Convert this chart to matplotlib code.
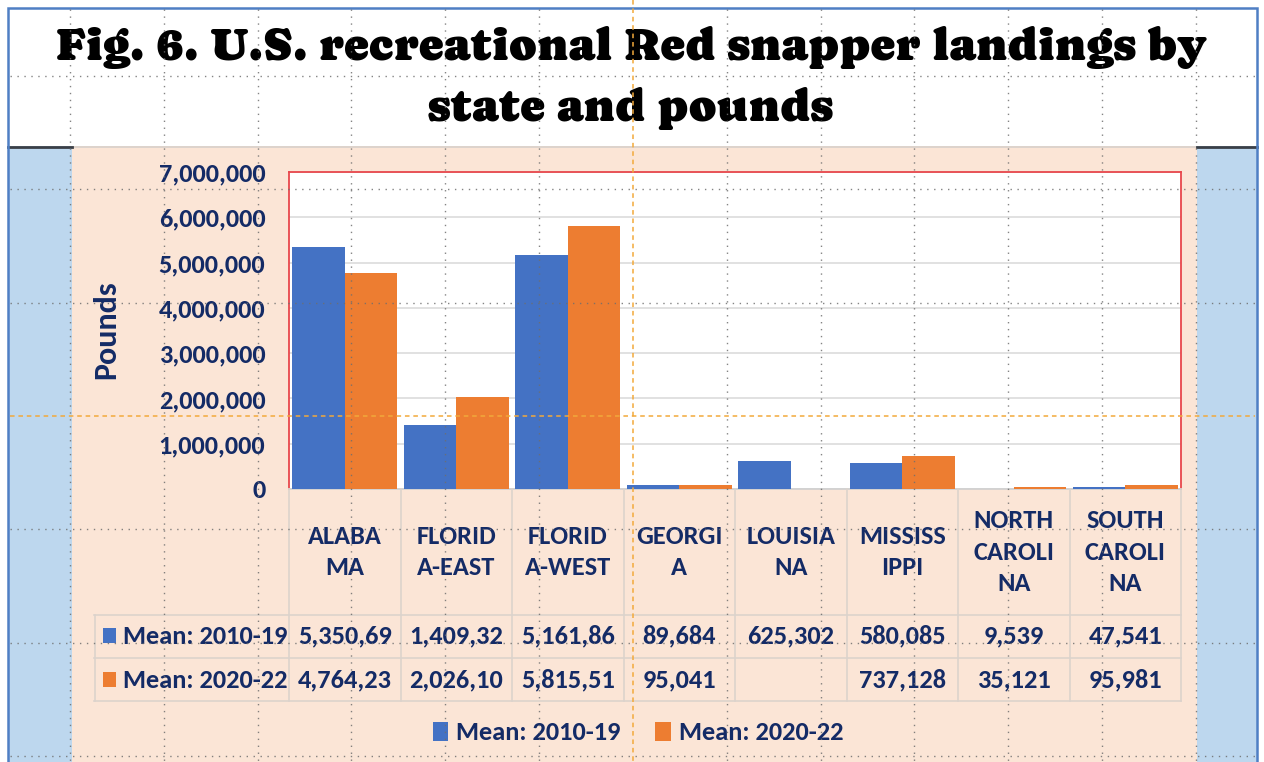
import matplotlib
matplotlib.use("Agg")
import numpy as np
import matplotlib.pyplot as plt
from matplotlib.patches import Rectangle
from matplotlib.lines import Line2D
from matplotlib.transforms import blended_transform_factory

# ---------------- data ----------------
states = ["ALABA\nMA", "FLORID\nA-EAST", "FLORID\nA-WEST", "GEORGI\nA",
          "LOUISIA\nNA", "MISSISS\nIPPI", "NORTH\nCAROLI\nNA", "SOUTH\nCAROLI\nNA"]
series_names = ["Mean: 2010-19", "Mean: 2020-22"]
mean_2010_19 = [5350690, 1409320, 5161860, 89684, 625302, 580085, 9539, 47541]
mean_2020_22 = [4764230, 2026100, 5815510, 95041, np.nan, 737128, 35121, 95981]
y_ticks = [0, 1000000, 2000000, 3000000, 4000000, 5000000, 6000000, 7000000]
title = "Fig. 6. U.S. recreational Red snapper landings by\nstate and pounds"
y_label = "Pounds"

# ---------------- style ----------------
W, H = 1264, 762
BLUE = "#4472C4"
ORANGE = "#ED7D31"
NAVY = "#142B66"
PEACH = "#FBE5D6"
SIDE = "#BDD7EE"
SANS = ["Carlito", "Lato", "DejaVu Sans"]
SERIF = ["Caprasimo", "DejaVu Serif"]
FS = 19

plt.rcParams["font.family"] = SANS

fig = plt.figure(figsize=(W / 100, H / 100), dpi=100)
fig.patch.set_facecolor("white")


def fx(px):
    return px / W


def fy(py):
    return 1 - py / H


def frect(x0, y0, x1, y1, **kw):
    fig.patches.append(Rectangle((fx(x0), fy(y1)), fx(x1) - fx(x0), fy(y0) - fy(y1),
                                 transform=fig.transFigure, **kw))


def fline(xs, ys, **kw):
    fig.lines.append(Line2D([fx(x) for x in xs], [fy(y) for y in ys],
                            transform=fig.transFigure, **kw))


# backgrounds
frect(72, 146, 1197, 770, facecolor=PEACH, edgecolor="none", zorder=-10)
frect(8, 146, 72, 770, facecolor=SIDE, edgecolor="none", zorder=-10)
frect(1197, 146, 1257, 770, facecolor=SIDE, edgecolor="none", zorder=-10)
fline([72, 1197], [146.5, 146.5], color="#D8D0CA", lw=1.2, zorder=-9)
fline([8, 72], [146.5, 146.5], color="#3A3F47", lw=2, zorder=-9)
fline([1197, 1257], [146.5, 146.5], color="#3A3F47", lw=2, zorder=-9)
frect(8, 8, 1257, 800, facecolor="none", edgecolor="#4F7FC4", lw=1.8, zorder=-8)

# ---------------- axes ----------------
ax = fig.add_axes([fx(289), fy(489), fx(1181) - fx(289), fy(172) - fy(489)])
ax.set_facecolor("white")
x = np.arange(len(states))
bw = 0.47
ax.bar(x - bw / 2, mean_2010_19, width=bw, color=BLUE, zorder=3, label=series_names[0])
ax.bar(x + bw / 2, mean_2020_22, width=bw, color=ORANGE, zorder=3, label=series_names[1])
ax.set_xlim(-0.5, len(states) - 0.5)
ax.set_ylim(y_ticks[0], y_ticks[-1])
ax.set_yticks(y_ticks)
ax.set_yticklabels([f"{v:,}" for v in y_ticks], fontsize=FS, fontweight="bold", color=NAVY)
ax.tick_params(axis="y", length=0, pad=17)
ax.set_xticks([])
ax.yaxis.grid(True, color="#D9D9D9", lw=1.1, zorder=0)
ax.set_axisbelow(True)
for s in ["top", "left", "right"]:
    ax.spines[s].set_color("#E8474C")
    ax.spines[s].set_linewidth(1.3)
ax.spines["bottom"].set_color("#CFCFCF")
ax.spines["bottom"].set_linewidth(1.2)

fig.text(fx(106), fy(330), y_label, rotation=90, ha="center", va="center",
         fontsize=23, fontweight="bold", color=NAVY)

# ---------------- data table ----------------
bt = blended_transform_factory(ax.transData, fig.transFigure)
grid_c = "#DCD3CC"
row_y = [636, 680]
for k in range(len(states) + 1):
    fig.lines.append(Line2D([k - 0.5, k - 0.5], [fy(489), fy(701)], transform=bt,
                            color=grid_c, lw=1.2, zorder=1))
for yy in [615, 658, 701]:
    fline([94, 1181], [yy, yy], color=grid_c, lw=1.2, zorder=1)
fline([94.5, 94.5], [615, 701], color=grid_c, lw=1.2, zorder=1)

for i, lab in enumerate(states):
    fig.text(x[i], fy(552), lab, transform=bt, ha="center", va="center",
             fontsize=FS, fontweight="bold", color=NAVY, linespacing=1.45, zorder=3)


def cell(v):
    if v is None or (isinstance(v, float) and np.isnan(v)):
        return ""
    return f"{int(v):,}"[:8]


for r, (vals, col) in enumerate([(mean_2010_19, BLUE), (mean_2020_22, ORANGE)]):
    yy = row_y[r]
    frect(103, yy - 8, 116, yy + 7, facecolor=col, edgecolor="none", zorder=2)
    fig.text(fx(123), fy(yy), series_names[r], ha="left", va="center",
             fontsize=FS, fontweight="bold", color=NAVY, zorder=3)
    for i, v in enumerate(vals):
        fig.text(x[i], fy(yy), cell(v), transform=bt, ha="center", va="center",
                 fontsize=FS, fontweight="bold", color=NAVY, zorder=3)

# ---------------- legend ----------------
leg = fig.legend(loc="center", bbox_to_anchor=(fx(638), fy(733)), ncol=2, frameon=False,
                 prop={"family": SANS, "weight": "bold", "size": FS},
                 handlelength=0.6, handleheight=0.75, handletextpad=0.3, columnspacing=1.3)
for t in leg.get_texts():
    t.set_color(NAVY)

# ---------------- title ----------------
fig.text(fx(631), fy(78), title, ha="center", va="center", fontsize=33.8,
         family=SERIF, color="black", linespacing=1.52, zorder=4)

# ---------------- screen guide overlay ----------------
for k in range(13):
    xx = 70 + 93.83 * k
    if k == 6:
        fline([xx, xx], [0, H], color="#F2A93B", lw=1.1, ls=(0, (3, 2.5)), zorder=20)
    else:
        fline([xx, xx], [9, H], color="#6E6E6E", lw=1.0, ls=(0, (1, 4)), alpha=0.85, zorder=20)
for k in range(7):
    yy = 76 + 113.3 * k
    if k == 3:
        fline([10, 1255], [yy, yy], color="#F2A93B", lw=1.1, ls=(0, (3, 2.5)), zorder=20)
    else:
        fline([10, 1255], [yy, yy], color="#6E6E6E", lw=1.0, ls=(0, (1, 4)), alpha=0.85, zorder=20)

fig.savefig("out.png", dpi=100)
